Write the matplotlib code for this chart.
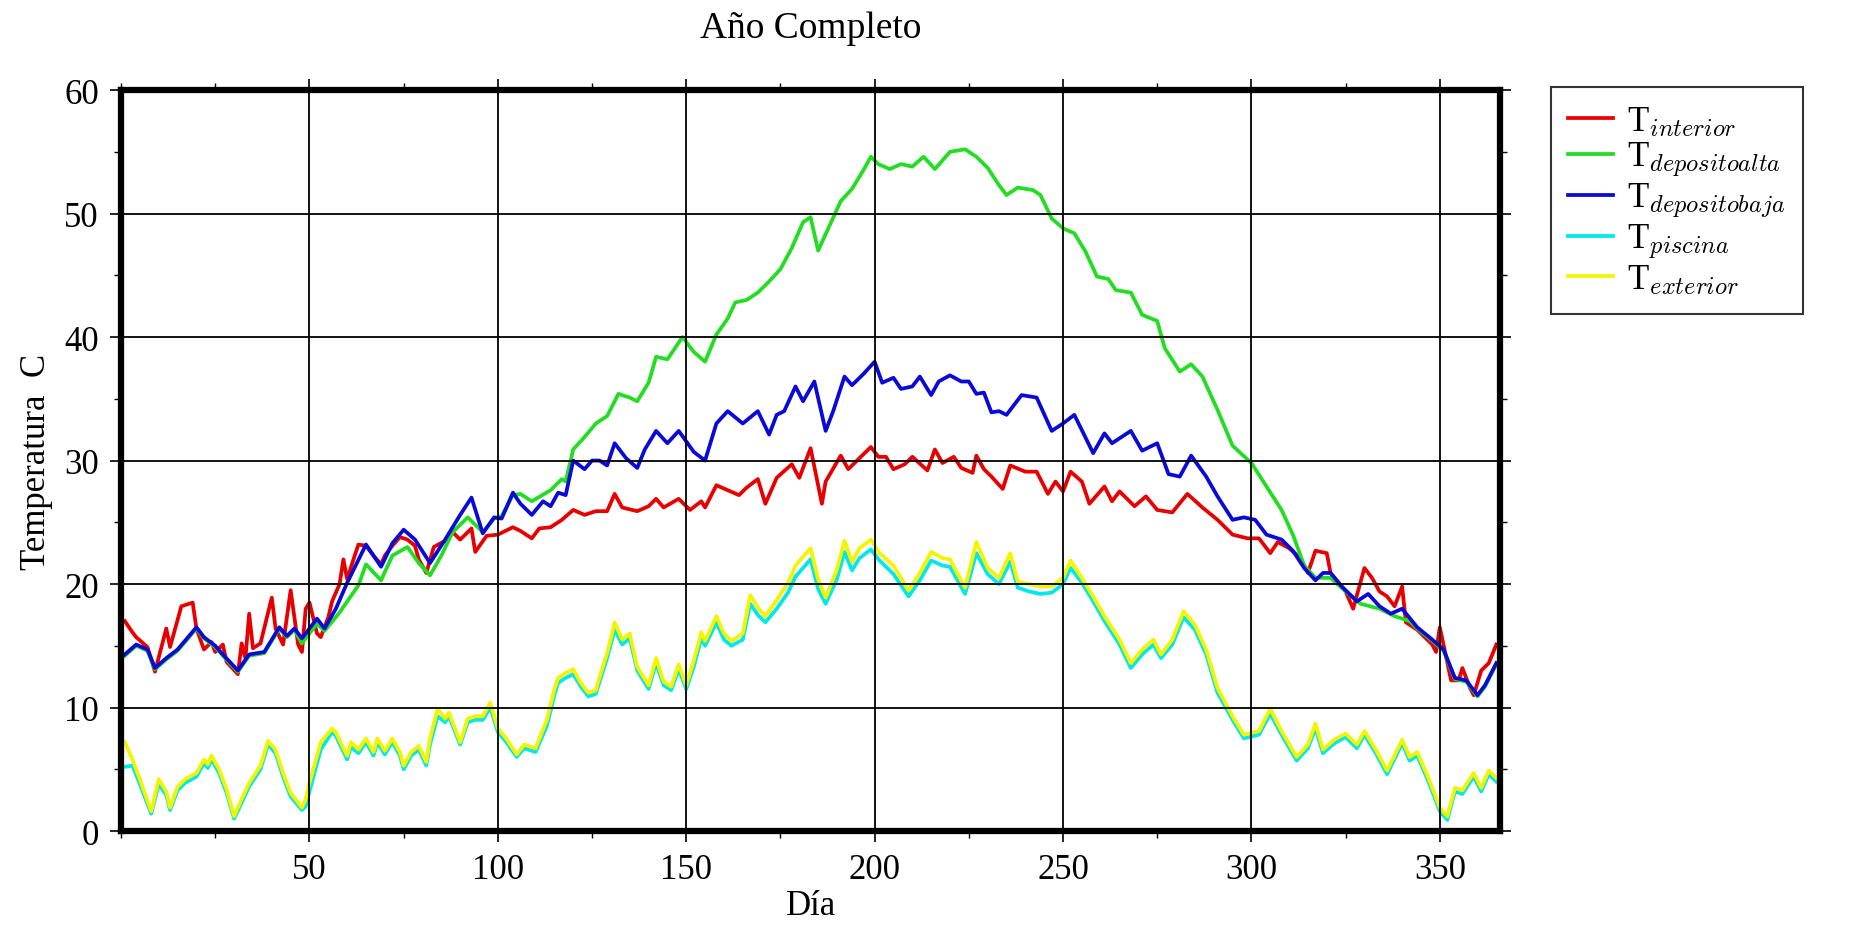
import matplotlib
matplotlib.use("Agg")
import matplotlib.pyplot as plt
from matplotlib.ticker import MultipleLocator

plt.rcParams['font.family'] = ['Liberation Serif', 'DejaVu Serif']
plt.rcParams['mathtext.fontset'] = 'cm'

# --- datos (dia, temperatura C) ---

dias_interior = [1, 3, 4, 7, 9, 12, 13, 16, 19, 20, 22, 24, 25, 27, 28, 31, 32, 33, 34, 35,
                 37, 40, 41, 43, 45, 47, 48, 49, 50, 52, 53, 55, 56, 58, 59, 60, 62, 63, 65, 67,
                 69, 70, 72, 74, 76, 78, 79, 81, 83, 86, 88, 90, 93, 94, 97, 100, 102, 104, 106, 109,
                 111, 114, 117, 120, 123, 126, 129, 131, 133, 137, 140, 142, 144, 148, 151, 154, 155, 158, 161, 164,
                 166, 169, 171, 174, 178, 180, 183, 184, 186, 187, 191, 193, 196, 199, 201, 203, 205, 208, 210, 214,
                 216, 218, 221, 223, 226, 227, 229, 231, 234, 236, 240, 243, 246, 248, 250, 252, 255, 257, 261, 263,
                 265, 269, 272, 275, 279, 283, 287, 291, 295, 299, 302, 305, 307, 310, 313, 315, 317, 320, 321, 325,
                 327, 330, 332, 334, 336, 338, 340, 341, 344, 348, 349, 350, 353, 355, 356, 358, 359, 361, 363, 365]
t_interior = [17.0, 16.1, 15.7, 14.9, 12.9, 16.4, 14.9, 18.2, 18.5, 16.4, 14.7, 15.3, 14.5, 15.1, 13.7, 12.7, 15.2, 14.0, 17.6, 14.8,
              15.2, 18.9, 16.4, 15.1, 19.5, 15.1, 14.5, 18.0, 18.5, 16.0, 15.7, 17.3, 18.6, 20.0, 22.0, 20.4, 22.3, 23.2, 23.1, 22.3,
              21.6, 22.3, 23.1, 23.8, 23.6, 23.1, 22.0, 20.9, 23.0, 23.5, 24.2, 23.6, 24.5, 22.6, 23.9, 24.0, 24.3, 24.6, 24.3, 23.7,
              24.5, 24.6, 25.2, 26.0, 25.6, 25.9, 25.9, 27.3, 26.2, 25.9, 26.3, 26.9, 26.2, 26.9, 26.0, 26.7, 26.2, 28.0, 27.6, 27.2,
              27.8, 28.5, 26.5, 28.6, 29.7, 28.6, 31.0, 29.5, 26.5, 28.3, 30.4, 29.3, 30.2, 31.1, 30.3, 30.3, 29.3, 29.7, 30.3, 29.2,
              30.9, 29.8, 30.3, 29.4, 29.0, 30.4, 29.3, 28.7, 27.7, 29.6, 29.1, 29.1, 27.3, 28.3, 27.5, 29.1, 28.3, 26.5, 27.9, 26.7,
              27.5, 26.3, 27.1, 26.0, 25.8, 27.3, 26.2, 25.2, 24.0, 23.7, 23.7, 22.5, 23.4, 22.9, 22.1, 20.9, 22.7, 22.5, 20.9, 19.4,
              18.0, 21.3, 20.5, 19.4, 19.0, 18.2, 19.8, 16.9, 16.3, 15.1, 14.5, 16.5, 12.2, 12.2, 13.2, 11.6, 11.0, 13.0, 13.6, 15.1]

dias_alta = [1, 4, 7, 9, 12, 15, 20, 22, 25, 27, 31, 34, 38, 42, 44, 46, 48, 52, 54, 58,
             63, 65, 69, 72, 76, 79, 82, 85, 88, 92, 96, 99, 101, 104, 106, 109, 114, 117, 118, 120,
             123, 126, 129, 132, 135, 137, 140, 142, 145, 149, 152, 155, 158, 161, 163, 166, 169, 172, 175, 178,
             181, 183, 185, 188, 191, 194, 197, 199, 201, 204, 207, 210, 213, 216, 220, 224, 227, 230, 233, 235,
             238, 242, 244, 247, 250, 253, 256, 259, 262, 264, 268, 271, 275, 277, 281, 284, 287, 291, 295, 300,
             304, 308, 311, 314, 317, 321, 325, 329, 334, 338, 342, 344, 348, 351, 354, 357, 360, 362, 365]
t_alta = [14.2, 15.0, 14.6, 13.1, 13.9, 14.6, 16.4, 15.6, 14.9, 14.2, 12.9, 14.2, 14.4, 16.4, 15.7, 16.3, 15.2, 16.8, 16.2, 17.7,
          19.9, 21.6, 20.3, 22.3, 23.0, 21.7, 20.7, 22.3, 24.2, 25.4, 24.2, 25.3, 25.5, 27.2, 27.3, 26.7, 27.6, 28.5, 28.3, 30.9,
          31.9, 33.0, 33.6, 35.4, 35.1, 34.8, 36.3, 38.4, 38.2, 40.0, 38.8, 38.0, 40.2, 41.5, 42.8, 43.0, 43.6, 44.5, 45.5, 47.2,
          49.3, 49.7, 47.0, 49.0, 51.0, 52.0, 53.5, 54.6, 54.0, 53.6, 54.0, 53.8, 54.6, 53.6, 55.0, 55.2, 54.6, 53.7, 52.3, 51.5,
          52.1, 51.9, 51.5, 49.6, 48.8, 48.4, 46.9, 44.9, 44.7, 43.8, 43.6, 41.8, 41.3, 39.1, 37.2, 37.8, 36.8, 34.1, 31.2, 29.8,
          27.9, 26.0, 24.0, 21.5, 20.5, 20.5, 19.4, 18.4, 18.0, 17.4, 17.0, 16.4, 15.4, 14.6, 12.3, 12.1, 10.9, 11.7, 13.5]

dias_baja = [1, 4, 7, 9, 12, 15, 20, 22, 25, 27, 31, 34, 38, 42, 44, 46, 48, 52, 54, 57,
             60, 65, 69, 72, 75, 78, 82, 86, 90, 93, 96, 99, 101, 104, 106, 109, 112, 114, 116, 118,
             120, 123, 125, 127, 129, 131, 134, 137, 139, 142, 145, 148, 152, 155, 158, 161, 165, 169, 172, 174,
             176, 179, 181, 184, 187, 189, 192, 194, 197, 200, 202, 205, 207, 210, 212, 215, 217, 220, 223, 225,
             227, 229, 231, 233, 235, 239, 243, 247, 250, 253, 258, 261, 263, 268, 271, 275, 278, 281, 284, 288,
             291, 295, 298, 301, 304, 308, 311, 314, 317, 319, 321, 324, 328, 331, 334, 337, 340, 344, 348, 351,
             354, 357, 360, 362, 365]
t_baja = [14.3, 15.1, 14.7, 13.2, 14.0, 14.7, 16.5, 15.7, 15.0, 14.3, 13.0, 14.3, 14.5, 16.5, 15.8, 16.4, 15.6, 17.2, 16.4, 18.0,
          20.1, 23.2, 21.4, 23.3, 24.4, 23.6, 21.7, 23.6, 25.6, 27.0, 24.1, 25.4, 25.3, 27.4, 26.5, 25.6, 26.7, 26.3, 27.4, 27.2,
          30.0, 29.3, 30.0, 30.0, 29.6, 31.4, 30.2, 29.4, 30.9, 32.4, 31.4, 32.4, 30.7, 30.0, 33.0, 34.0, 33.0, 34.0, 32.1, 33.7,
          34.0, 36.0, 34.8, 36.4, 32.4, 34.0, 36.8, 36.1, 37.0, 38.0, 36.3, 36.7, 35.8, 36.0, 36.8, 35.3, 36.4, 36.9, 36.4, 36.4,
          35.4, 35.5, 33.9, 34.0, 33.7, 35.3, 35.1, 32.4, 33.0, 33.7, 30.6, 32.2, 31.4, 32.4, 30.8, 31.4, 28.9, 28.7, 30.4, 28.7,
          27.1, 25.2, 25.4, 25.2, 24.0, 23.6, 22.7, 21.3, 20.3, 20.9, 20.9, 19.8, 18.6, 19.2, 18.2, 17.6, 18.0, 16.5, 15.5, 14.7,
          12.4, 12.2, 11.0, 11.8, 13.6]

dias_ext = [1, 3, 5, 8, 10, 12, 13, 15, 17, 20, 22, 23, 24, 26, 28, 30, 32, 34, 37, 39,
            41, 43, 45, 48, 49, 50, 53, 56, 57, 60, 61, 63, 65, 67, 68, 70, 72, 74, 75, 77,
            79, 81, 82, 84, 86, 87, 90, 92, 94, 96, 98, 100, 102, 105, 107, 110, 113, 115, 116, 118,
            120, 122, 124, 126, 127, 129, 131, 133, 135, 137, 140, 142, 144, 146, 148, 150, 152, 154, 155, 158,
            160, 162, 165, 167, 169, 171, 174, 177, 179, 183, 185, 187, 190, 192, 194, 196, 199, 201, 205, 209,
            212, 215, 218, 220, 224, 227, 230, 233, 236, 238, 241, 244, 247, 250, 252, 255, 258, 261, 265, 268,
            271, 274, 276, 279, 282, 285, 288, 291, 295, 298, 302, 305, 308, 312, 315, 317, 319, 322, 325, 328,
            330, 333, 336, 340, 342, 344, 347, 350, 352, 354, 356, 359, 361, 363, 365]
t_exterior = [7.2, 5.8, 4.2, 1.6, 4.2, 3.2, 1.9, 3.6, 4.2, 4.7, 5.8, 5.4, 6.1, 5.0, 3.4, 1.2, 2.6, 3.9, 5.3, 7.3,
              6.6, 4.7, 3.1, 1.9, 2.6, 3.9, 7.2, 8.3, 8.0, 6.1, 7.2, 6.6, 7.5, 6.4, 7.5, 6.5, 7.5, 6.4, 5.3, 6.4,
              6.9, 5.6, 7.5, 9.9, 9.1, 9.6, 7.2, 9.1, 9.3, 9.3, 10.4, 8.3, 7.6, 6.2, 7.0, 6.7, 9.0, 11.5, 12.4, 12.8,
              13.1, 12.0, 11.2, 11.4, 12.5, 14.4, 16.9, 15.5, 16.0, 13.3, 11.8, 14.0, 12.1, 11.7, 13.5, 11.8, 13.8, 16.1, 15.4, 17.4,
              16.0, 15.4, 16.0, 19.1, 18.1, 17.4, 18.7, 20.1, 21.5, 22.9, 20.4, 18.9, 21.2, 23.5, 21.8, 22.9, 23.6, 22.6, 21.5, 19.5,
              20.9, 22.6, 22.1, 22.0, 19.7, 23.4, 21.3, 20.5, 22.5, 20.2, 20.0, 19.8, 19.8, 20.5, 21.9, 20.5, 19.0, 17.4, 15.5, 13.6,
              14.7, 15.5, 14.3, 15.5, 17.8, 16.7, 14.7, 11.6, 9.3, 7.8, 8.1, 9.9, 8.1, 6.0, 7.0, 8.7, 6.6, 7.4, 7.9, 7.0,
              8.1, 6.6, 4.9, 7.4, 6.0, 6.4, 4.3, 1.9, 1.2, 3.5, 3.3, 4.7, 3.5, 4.9, 4.3]
t_piscina = [5.2, 5.3, 3.8, 1.4, 3.8, 2.9, 1.7, 3.3, 3.9, 4.4, 5.5, 5.1, 5.8, 4.7, 3.1, 1.0, 2.3, 3.6, 5.0, 7.0,
             6.3, 4.4, 2.8, 1.7, 2.0, 3.2, 6.6, 8.0, 7.7, 5.8, 6.8, 6.3, 7.2, 6.1, 7.2, 6.2, 7.2, 6.1, 5.0, 6.1,
             6.6, 5.3, 7.0, 9.3, 8.8, 9.3, 7.0, 8.8, 9.0, 9.0, 10.0, 8.0, 7.3, 6.0, 6.7, 6.4, 8.5, 11.0, 12.0, 12.4,
             12.7, 11.7, 10.9, 11.1, 12.1, 14.0, 16.3, 15.1, 15.6, 13.0, 11.5, 13.6, 11.8, 11.4, 13.1, 11.5, 13.3, 15.6, 15.0, 16.9,
             15.5, 15.0, 15.5, 18.4, 17.5, 16.9, 18.0, 19.3, 20.6, 22.0, 19.6, 18.4, 20.4, 22.6, 21.1, 22.1, 22.8, 22.0, 20.8, 19.0,
             20.3, 21.9, 21.5, 21.4, 19.2, 22.5, 20.8, 20.0, 21.8, 19.7, 19.4, 19.2, 19.3, 20.0, 21.3, 20.1, 18.6, 17.0, 15.1, 13.2,
             14.3, 15.1, 14.0, 15.1, 17.3, 16.3, 14.3, 11.2, 9.0, 7.5, 7.8, 9.5, 7.8, 5.7, 6.7, 8.3, 6.3, 7.1, 7.6, 6.7,
             7.8, 6.3, 4.6, 7.1, 5.7, 6.1, 4.0, 1.6, 0.9, 3.2, 3.0, 4.4, 3.2, 4.6, 4.0]

# --- figura ---
fig = plt.figure(figsize=(18.57, 9.28), dpi=100)
ax = fig.add_axes([0.0652, 0.1034, 0.7426, 0.7985])

lw = 2.7
ax.plot(dias_interior, t_interior, color='#e80000', lw=lw, label='T$_{interior}$')
ax.plot(dias_alta, t_alta, color='#22dd22', lw=lw, label='T$_{depositoalta}$')
ax.plot(dias_baja, t_baja, color='#0a0ad8', lw=lw, label='T$_{depositobaja}$')
ax.plot(dias_ext, t_piscina, color='#00e8e8', lw=lw, label='T$_{piscina}$')
ax.plot(dias_ext, t_exterior, color='#f4f400', lw=lw, label='T$_{exterior}$')

ax.set_xlim(0, 366)
ax.set_ylim(0, 60)
ax.xaxis.set_major_locator(MultipleLocator(50))
ax.xaxis.set_minor_locator(MultipleLocator(25))
ax.yaxis.set_major_locator(MultipleLocator(10))
ax.yaxis.set_minor_locator(MultipleLocator(5))
ax.set_xticks([50, 100, 150, 200, 250, 300, 350])
ax.grid(True, which='major', color='black', lw=1.3)
ax.set_axisbelow(False)

for s in ax.spines.values():
    s.set_linewidth(4.5)
ax.tick_params(which='major', direction='out', length=8, width=1.2, labelsize=25,
               top=True, right=True, pad=8)
ax.tick_params(which='minor', direction='out', length=5, width=1.0, top=True, right=True)

ax.set_title('Año Completo', fontsize=27, pad=38)
ax.set_xlabel('Día', fontsize=25, labelpad=2)
ax.set_ylabel('Temperatura  C', fontsize=25, labelpad=8)

leg = fig.legend(loc='upper left', bbox_to_anchor=(0.835, 0.905), fontsize=25,
                 frameon=True, fancybox=False, edgecolor='black', handlelength=1.3,
                 labelspacing=0.05, borderpad=0.5, handletextpad=0.4, borderaxespad=0.0)
leg.get_frame().set_linewidth(1.5)

fig.savefig('out.png', dpi=100)
